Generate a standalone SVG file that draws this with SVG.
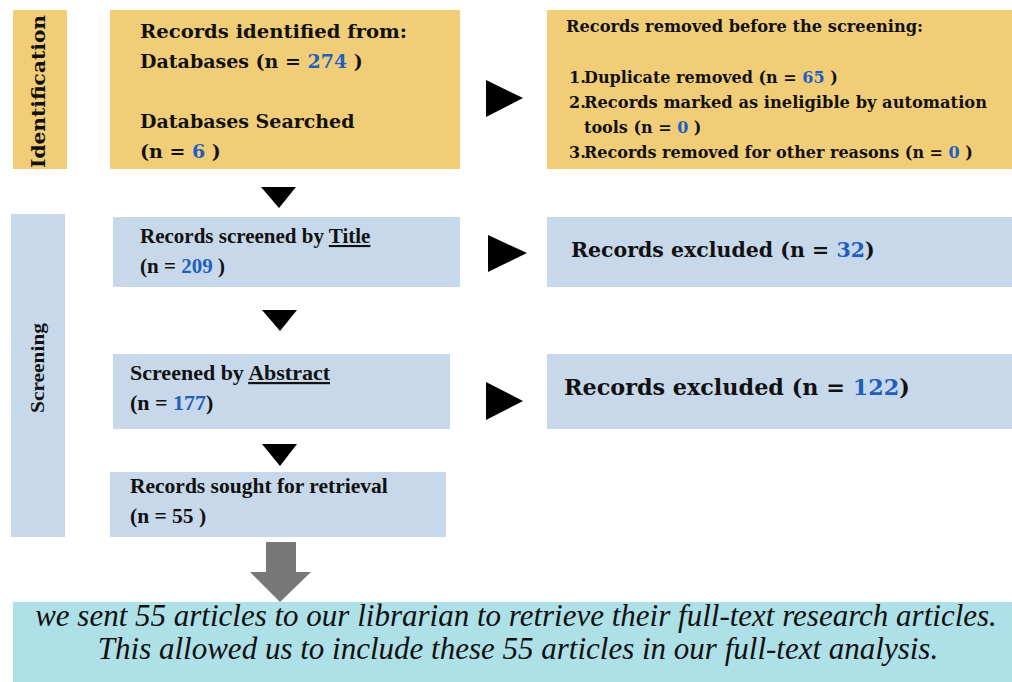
<svg xmlns="http://www.w3.org/2000/svg" width="1012" height="682" viewBox="0 0 1012 682">
<style>
.y{fill:#f2cd78}
.b{fill:#c7d8ea}
.m{font-family:"DejaVu Serif","Liberation Serif",serif;font-weight:bold;fill:#111}
.t{font-family:"Liberation Serif","Times New Roman",serif;font-weight:bold;fill:#111}
.n{fill:#1f5fbf}
.it{font-family:"Liberation Serif","Times New Roman",serif;font-style:italic;fill:#111;font-size:31px}
.ar{fill:#000}
</style>
<rect width="1012" height="682" fill="#fff"/>
<g id="phase-identification">
<rect class="y" x="13" y="10" width="54" height="159"/>
<text class="m" font-size="19" transform="translate(45,168) rotate(-90)" textLength="153" lengthAdjust="spacingAndGlyphs">Identification</text>
</g>
<g id="phase-screening">
<rect class="b" x="11" y="214" width="54" height="323"/>
<text class="t" font-size="18" transform="translate(44,413) rotate(-90)" textLength="90" lengthAdjust="spacingAndGlyphs">Screening</text>
</g>
<g id="identified">
<rect class="y" x="110" y="10" width="350" height="159"/>
<text class="m" font-size="19" x="140" y="38" textLength="267" lengthAdjust="spacingAndGlyphs">Records identified from:</text>
<text class="m" font-size="19" x="140" y="68">Databases (n = <tspan class="n">274</tspan> )</text>
<text class="m" font-size="19" x="140" y="128">Databases Searched</text>
<text class="m" font-size="19" x="140" y="158">(n = <tspan class="n">6</tspan> )</text>
</g>
<g id="removed">
<rect class="y" x="547" y="10" width="465" height="159"/>
<text class="m" font-size="16" x="566" y="32" textLength="357" lengthAdjust="spacingAndGlyphs">Records removed before the screening:</text>
<text class="m" font-size="16" x="569" y="83">1.</text>
<text class="m" font-size="16" x="584" y="83">Duplicate removed (n = <tspan class="n">65</tspan> )</text>
<text class="m" font-size="16" x="569" y="108">2.</text>
<text class="m" font-size="16" x="584" y="108" textLength="403" lengthAdjust="spacingAndGlyphs">Records marked as ineligible by automation</text>
<text class="m" font-size="16" x="584" y="133">tools (n = <tspan class="n">0</tspan> )</text>
<text class="m" font-size="16" x="569" y="158">3.</text>
<text class="m" font-size="16" x="584" y="158">Records removed for other reasons (n = <tspan class="n">0</tspan> )</text>
</g>
<g id="title-screen">
<rect class="b" x="113" y="217" width="347" height="70"/>
<text class="t" font-size="21" x="140" y="243">Records screened by <tspan text-decoration="underline">Title</tspan></text>
<text class="t" font-size="21" x="140" y="273">(n = <tspan class="n">209</tspan> )</text>
</g>
<g id="excluded-1">
<rect class="b" x="547" y="217" width="465" height="70"/>
<text class="m" font-size="20.5" x="571" y="257">Records excluded (n = <tspan class="n">32</tspan>)</text>
</g>
<g id="abstract-screen">
<rect class="b" x="113" y="354" width="337" height="75"/>
<text class="t" font-size="22" x="130" y="380">Screened by <tspan text-decoration="underline">Abstract</tspan></text>
<text class="t" font-size="22" x="130" y="410">(n = <tspan class="n">177</tspan>)</text>
</g>
<g id="excluded-2">
<rect class="b" x="547" y="354" width="465" height="75"/>
<text class="m" font-size="22.3" x="564" y="395">Records excluded (n = <tspan class="n">122</tspan>)</text>
</g>
<g id="sought">
<rect class="b" x="110" y="472" width="336" height="65"/>
<text class="t" font-size="21.5" x="130" y="493">Records sought for retrieval</text>
<text class="t" font-size="21.5" x="130" y="523">(n = 55 )</text>
</g>
<g id="result">
<rect x="13" y="602" width="999" height="80" fill="#aee0e8"/>
<text class="it" x="516" y="626" text-anchor="middle">we sent 55 articles to our librarian to retrieve their full-text research articles.</text>
<text class="it" x="518" y="659" text-anchor="middle">This allowed us to include these 55 articles in our full-text analysis.</text>
</g>
<g id="connectors">
<polygon class="ar" points="486,80 523,98 486,117"/>
<polygon class="ar" points="488,235 527,253 488,272"/>
<polygon class="ar" points="486,382 523,401 486,420"/>
<polygon class="ar" points="261,187 296,187 279,208"/>
<polygon class="ar" points="262,310 297,310 280,331"/>
<polygon class="ar" points="262,444 297,444 280,466"/>
<polygon fill="#777" points="266,542 296,542 296,572 311,572 280,602 250,572 266,572"/>
</g>
</svg>
